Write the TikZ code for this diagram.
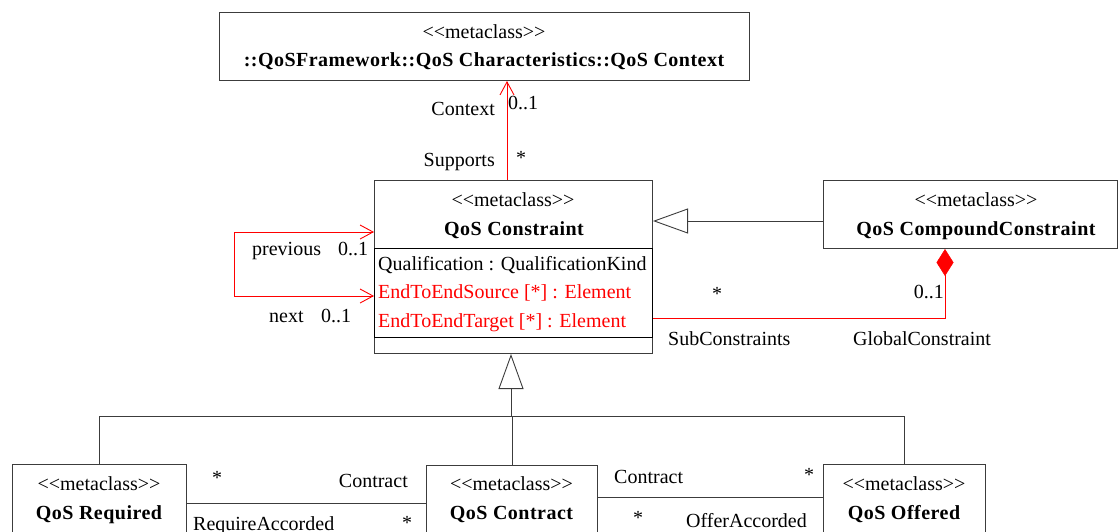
\documentclass[tikz,border=0pt]{standalone}
\usepackage{fontspec}
\setmainfont{Liberation Serif}
\usetikzlibrary{arrows.meta}
\newcommand\stereo{<\kern0pt<metaclass>\kern0pt>}
\definecolor{umlred}{RGB}{255,0,0}
\definecolor{edgegray}{RGB}{60,60,60}
\begin{document}
\begin{tikzpicture}[x=1pt,y=-1pt,
  font=\fontsize{20}{24}\selectfont,
  cls/.style={draw=edgegray, line width=1pt, rectangle, inner sep=0pt, anchor=north west},
  lbl/.style={inner sep=0pt, anchor=base},
  lblw/.style={inner sep=0pt, anchor=base west},
  lble/.style={inner sep=0pt, anchor=base east},
  bname/.style={lbl, font=\fontsize{20}{24}\selectfont\bfseries\addfontfeatures{LetterSpace=2.4}},
  redtxt/.style={text=umlred},
  link/.style={draw=edgegray, line width=0.9pt},
  redlink/.style={draw=umlred, line width=0.9pt},
  nav/.style={-{Straight Barb[length=13pt,width=14pt,line width=0.9pt]}},
  navboth/.style={{Straight Barb[length=13pt,width=14pt,line width=0.9pt]}-{Straight Barb[length=13pt,width=14pt,line width=0.9pt]}},
  gen/.style={link, -{Triangle[open,length=35pt,width=25pt,fill=white,line width=0.9pt]}},
  comp/.style={redlink, {Diamond[length=27pt,width=17pt,fill=umlred,line width=0.5pt]}-},
]
\useasboundingbox (0,0) rectangle (1118,532);
\begin{scope}
\clip (0,0) rectangle (1118,532);

% helper coordinates
\coordinate (ax) at (507,0);
\coordinate (py) at (0,232);
\coordinate (ny) at (0,296);
\coordinate (lx) at (234,0);
\coordinate (gy) at (0,221);
\coordinate (dx) at (945,0);
\coordinate (sy) at (0,318);
\coordinate (jn) at (511,416);
\coordinate (rlx) at (99,0);
\coordinate (rrx) at (904,0);
\coordinate (a1) at (0,503);
\coordinate (a2) at (0,497);

% classes
\node[cls, minimum width=530pt, minimum height=68pt] (ctx) at (219,12) {};
\node[lbl] (ctxs) at (484,39) {\stereo};
\node[bname] (ctxn) at (484,67) {::QoSFramework::QoS Characteristics::QoS Context};

\node[cls, minimum width=278pt, minimum height=173pt] (cons) at (374,180) {};
\node[lbl] (conss) at (513,206) {\stereo};
\node[bname] (consn) at (514,235) {QoS Constraint};
\node[cls, draw=black, line width=1.4pt, minimum width=278pt, minimum height=89pt] (attr) at (374,248) {};
\node[lblw] (at1) at (378,270) {Qualification : QualificationKind};
\node[lblw, redtxt] (at2) at (378,298) {EndToEndSource [*] : Element};
\node[lblw, redtxt] (at3) at (378,327) {EndToEndTarget [*] : Element};

\node[cls, minimum width=294pt, minimum height=68pt] (cmp) at (823,180) {};
\node[lbl] (cmps) at (976,206) {\stereo};
\node[bname] (cmpn) at (976,235) {QoS CompoundConstraint};

\node[cls, minimum width=174pt, minimum height=100pt] (req) at (12,464) {};
\node[lbl] (reqs) at (99,490) {\stereo};
\node[bname] (reqn) at (99,519) {QoS Required};

\node[cls, minimum width=171pt, minimum height=100pt] (contr) at (426,465) {};
\node[lbl] (contrs) at (511.5,490) {\stereo};
\node[bname] (contrn) at (511.5,519) {QoS Contract};

\node[cls, minimum width=162pt, minimum height=100pt] (off) at (823,464) {};
\node[lbl] (offs) at (904,490) {\stereo};
\node[bname] (offn) at (904,519) {QoS Offered};

% context association
\draw[redlink, nav] (cons.north -| ax) -- (ctx.south -| ax);
\node[lble] (l1) at (495,116) {Context};
\node[lblw] (l2) at (508,110) {0..1};
\node[lble] (l3) at (495,166) {Supports};
\node[lbl] (l4) at (521,164) {*};

% self association
\draw[redlink, navboth] (cons.west |- py) -- (lx |- py) -- (lx |- ny) -- (cons.west |- ny);
\node[lblw] (l5) at (252,255) {previous};
\node[lblw] (l6) at (338,255) {0..1};
\node[lblw] (l7) at (269,322) {next};
\node[lblw] (l8) at (321,322) {0..1};

% generalization compound -> constraint
\draw[gen] (cmp.west |- gy) -- (cons.east |- gy);

% composition
\draw[comp] (cmp.south -| dx) -- (dx |- sy) -- (cons.east |- sy);
\node[lbl] (l9) at (717,300) {*};
\node[lble] (l10) at (944,298) {0..1};
\node[lblw] (l11) at (668,345) {SubConstraints};
\node[lblw] (l12) at (853,345) {GlobalConstraint};

% generalization tree
\draw[gen] (jn) -- (cons.south -| jn);
\draw[link] (req.north -| rlx) |- (rrx |- jn) -- (off.north -| rrx);
\draw[link] (contr.north) -- (contr.north |- jn);

% associations bottom
\draw[link] (req.east |- a1) -- (contr.west |- a1);
\node[lbl] (l13) at (217,484) {*};
\node[lble] (l14) at (408,487) {Contract};
\node[lblw] (l15) at (193,530) {RequireAccorded};
\node[lbl] (l16) at (407,529) {*};

\draw[link] (contr.east |- a2) -- (off.west |- a2);
\node[lblw] (l17) at (614,483) {Contract};
\node[lbl] (l18) at (809,481) {*};
\node[lbl] (l19) at (638,524) {*};
\node[lble] (l20) at (807,527) {OfferAccorded};
\end{scope}
\end{tikzpicture}
\end{document}
